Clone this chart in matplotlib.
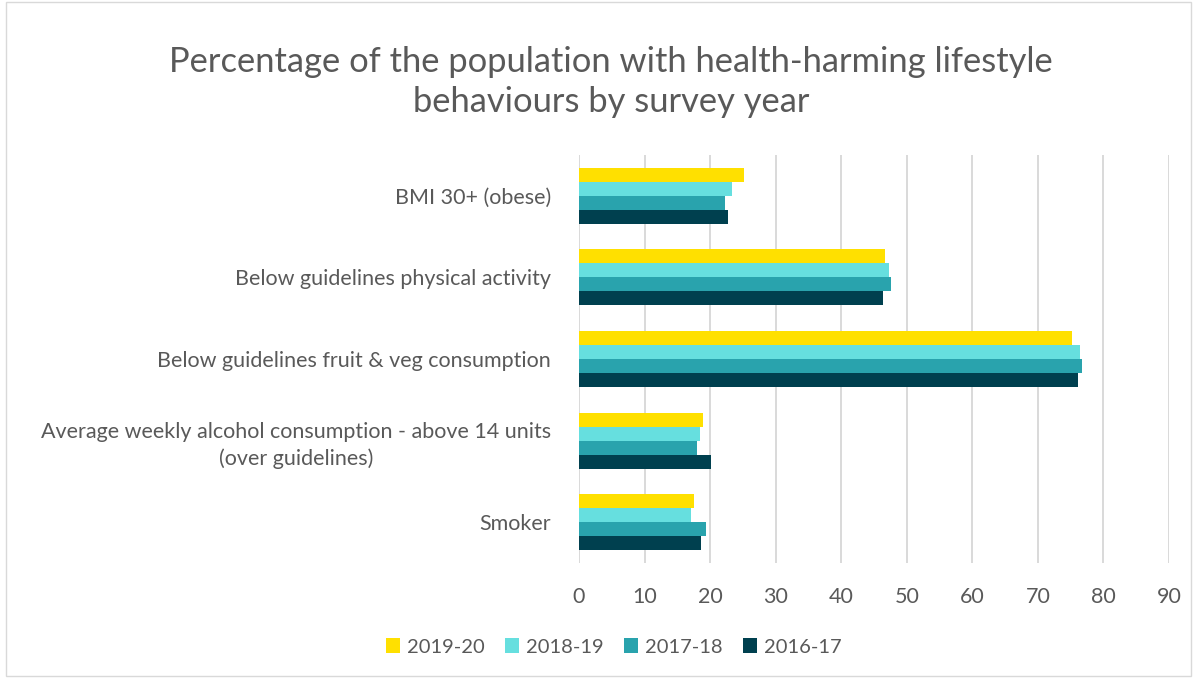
import numpy as np
import matplotlib.pyplot as plt
from matplotlib.patches import Rectangle

plt.rcParams['font.family'] = ['Lato', 'DejaVu Sans']

# categories listed top to bottom
categories = [
    "BMI 30+ (obese)",
    "Below guidelines physical activity",
    "Below guidelines fruit & veg consumption",
    "Average weekly alcohol consumption - above 14 units\n(over guidelines)",
    "Smoker",
]
years = ["2019-20", "2018-19", "2017-18", "2016-17"]

pct_2019_20 = [25.2, 46.7, 75.2, 18.9, 17.6]
pct_2018_19 = [23.4, 47.3, 76.4, 18.4, 17.1]
pct_2017_18 = [22.3, 47.6, 76.7, 18.0, 19.3]
pct_2016_17 = [22.8, 46.4, 76.1, 20.2, 18.6]

series = [pct_2019_20, pct_2018_19, pct_2017_18, pct_2016_17]
colors = ["#FFE000", "#66DFDF", "#29A3AD", "#00404F"]
text_grey = "#595959"

fig = plt.figure(figsize=(11.97, 6.79), dpi=100)
ax = fig.add_axes([579 / 1197, 1 - 563 / 679, (1169 - 579) / 1197, (563 - 155) / 679])

n_cat = len(categories)
y = np.arange(n_cat)[::-1].astype(float)
bar_h = 0.172
for i, (vals, col, lab) in enumerate(zip(series, colors, years)):
    offset = (1.5 - i) * bar_h
    ax.barh(y + offset, vals, height=bar_h, color=col, label=lab, zorder=3)

ax.set_xlim(0, 90)
ax.set_ylim(-0.5, n_cat - 0.5)
ax.set_xticks(np.arange(0, 91, 10))
ax.set_yticks(y)
ax.set_yticklabels(categories, multialignment='center', linespacing=1.35)
ax.grid(axis='x', color="#D9D9D9", linewidth=1.4, zorder=0)
for s in ax.spines.values():
    s.set_visible(False)
ax.tick_params(axis='both', length=0, colors=text_grey, labelsize=15.5)
ax.tick_params(axis='x', pad=17)
ax.tick_params(axis='y', pad=20)

fig.text(611 / 1197, 1 - 82 / 679,
         "Percentage of the population with health-harming lifestyle\nbehaviours by survey year",
         ha='center', va='center', fontsize=24.8, color=text_grey, linespacing=1.3)

fig.legend(loc='center', bbox_to_anchor=(614 / 1197, 1 - 647 / 679), ncol=4,
           frameon=False, fontsize=14.5, labelcolor=text_grey,
           handlelength=0.7, handleheight=0.7, handletextpad=0.35, columnspacing=1.0)

fig.patches.append(Rectangle((6 / 1197, 3 / 679), 1185 / 1197, 674 / 679,
                             transform=fig.transFigure, fill=False,
                             edgecolor="#D9D9D9", linewidth=1))

fig.savefig("out.png", dpi=100)
